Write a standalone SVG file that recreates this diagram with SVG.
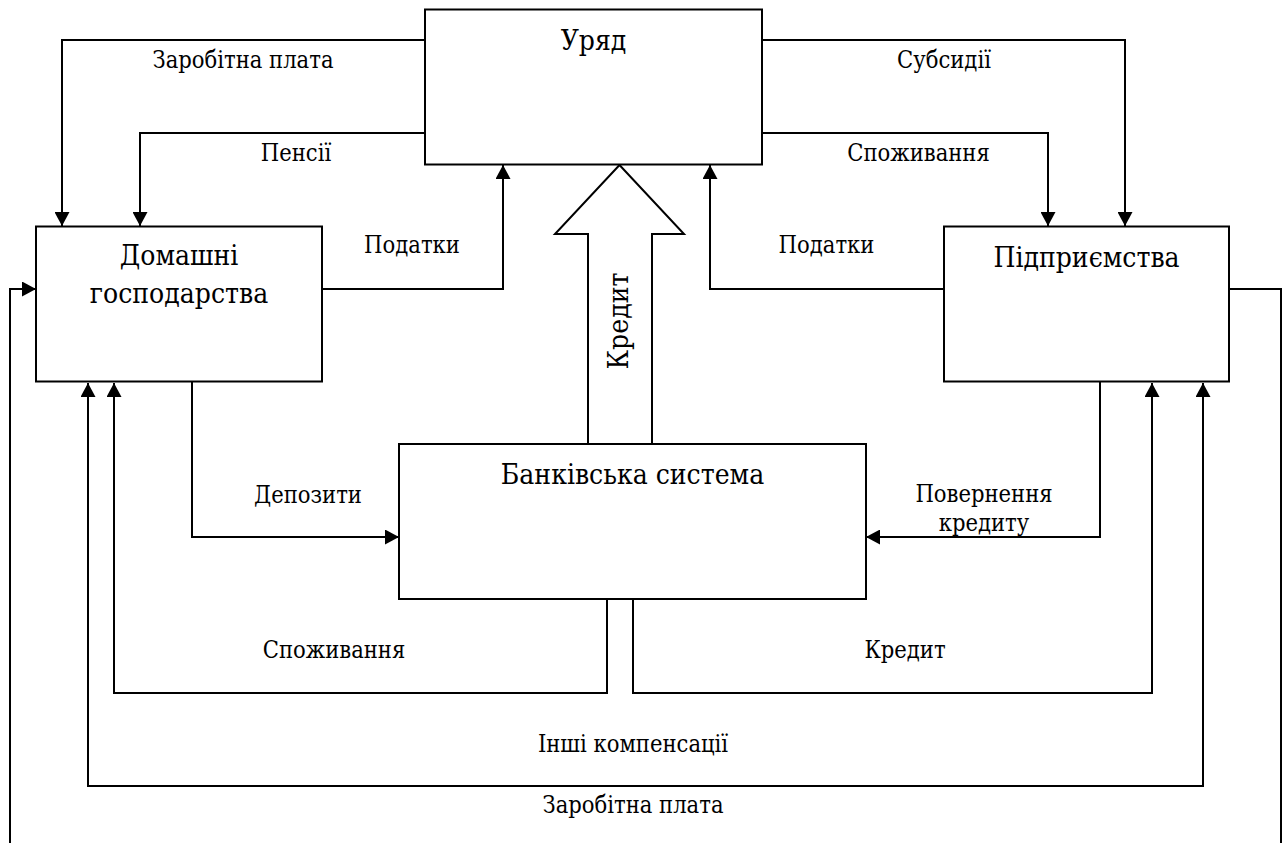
<svg xmlns="http://www.w3.org/2000/svg" width="1284" height="843" viewBox="0 0 1284 843">
<style>
.box{fill:#fff;stroke:#000;stroke-width:2}
.ln{fill:none;stroke:#000;stroke-width:2}
text{font-family:'DejaVu Serif','Liberation Serif',serif;font-stretch:semi-condensed;fill:#000;text-anchor:middle}
.big{font-size:28px}
.lbl{font-size:23.5px}
</style>
<defs>
<marker id="ah" markerUnits="userSpaceOnUse" markerWidth="15" markerHeight="15" refX="14" refY="7.5" orient="auto-start-reverse" viewBox="0 0 15 15">
<path d="M0,0 L14,7.5 L0,15 Z" fill="#000"/>
</marker>
</defs>
<rect width="1284" height="843" fill="#fff"/>
<g id="connectors">
<path class="ln" d="M425,40 H62 V226" marker-end="url(#ah)"/>
<path class="ln" d="M425,133 H140 V226" marker-end="url(#ah)"/>
<path class="ln" d="M322,289 H503 V165" marker-end="url(#ah)"/>
<path class="ln" d="M762,40 H1125 V226" marker-end="url(#ah)"/>
<path class="ln" d="M762,133 H1048 V226" marker-end="url(#ah)"/>
<path class="ln" d="M944,289 H710 V165" marker-end="url(#ah)"/>
<path class="ln" d="M1229,289 H1281 V843"/>
<path class="ln" d="M10,843 V289 H36" marker-end="url(#ah)"/>
<path class="ln" d="M192,382 V537 H399" marker-end="url(#ah)"/>
<path class="ln" d="M1100,382 V537 H866" marker-end="url(#ah)"/>
<path class="ln" d="M607,599 V693 H114 V383" marker-end="url(#ah)"/>
<path class="ln" d="M633,599 V693 H1152 V383" marker-end="url(#ah)"/>
<path class="ln" d="M88,383 V786 H1203 V383" marker-start="url(#ah)" marker-end="url(#ah)"/>
<polygon id="credit-arrow" class="box" points="588,444 588,234 555,234 619.5,165 684,234 652,234 652,444"/>
<text class="big" transform="translate(628,321) rotate(-90)">Кредит</text>
<text class="lbl" x="243" y="68">Заробітна плата</text>
<text class="lbl" x="296" y="161">Пенсії</text>
<text class="lbl" x="412" y="253">Податки</text>
<text class="lbl" x="944" y="68">Субсидії</text>
<text class="lbl" x="918.5" y="161">Споживання</text>
<text class="lbl" x="826.5" y="253">Податки</text>
<text class="lbl" x="308" y="503">Депозити</text>
<text class="lbl" x="984" y="502">Повернення</text>
<text class="lbl" x="984" y="531">кредиту</text>
<text class="lbl" x="334" y="658">Споживання</text>
<text class="lbl" x="905" y="658">Кредит</text>
<text class="lbl" x="633" y="752">Інші компенсації</text>
<text class="lbl" x="633" y="813">Заробітна плата</text>
</g>
<g id="uryad">
<rect class="box" x="425" y="9.5" width="337" height="155"/>
<text class="big" x="593.5" y="50">Уряд</text>
</g>
<g id="households">
<rect class="box" x="36" y="226.5" width="286" height="155"/>
<text class="big" x="179" y="265">Домашні</text>
<text class="big" x="179" y="303">господарства</text>
</g>
<g id="firms">
<rect class="box" x="944" y="226.5" width="285" height="155"/>
<text class="big" x="1086.5" y="267">Підприємства</text>
</g>
<g id="bank">
<rect class="box" x="399" y="444" width="467" height="155"/>
<text class="big" x="632.5" y="484">Банківська система</text>
</g>
</svg>
